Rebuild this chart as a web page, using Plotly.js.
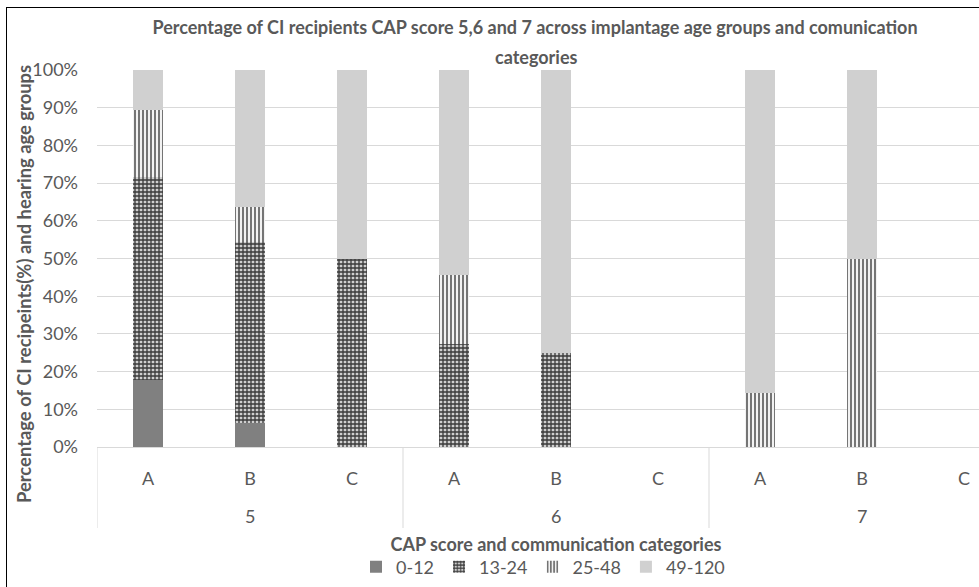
<!DOCTYPE html>
<html>
<head>
<meta charset="utf-8">
<script src="https://cdn.plot.ly/plotly-3.0.1.min.js"></script>
<style>
  html, body { margin: 0; padding: 0; width: 979px; height: 587px; overflow: hidden; background: #fff; }
  #chart { position: absolute; left: 0; top: 0; width: 1070px; height: 620px; }
  #frame { position: absolute; left: 6px; top: 7px; width: 1100px; height: 700px; border-left: 1px solid #000; border-top: 1px solid #000; pointer-events: none; }
</style>
</head>
<body>
<div id="chart"></div>
<div id="frame"></div>
<script>
// ---- data ----
const capScores = ["5", "6", "7"];
const commCategories = ["A", "B", "C"];
const seriesNames = ["0-12", "13-24", "25-48", "49-120"];
const age0_12   = [17.9, 6.4, 0, 0, 0, 0, 0, 0, 0];
const age13_24  = [53.6, 48.0, 50, 27.3, 25, 0, 0, 0, 0];
const age25_48  = [17.9, 9.3, 0, 18.2, 0, 0, 14.3, 50, 0];
const age49_120 = [10.7, 36.3, 50, 54.5, 75, 0, 85.7, 50, 0];
const yTickVals = [0, 10, 20, 30, 40, 50, 60, 70, 80, 90, 100];
const yTickText = ["0%", "10%", "20%", "30%", "40%", "50%", "60%", "70%", "80%", "90%", "100%"];
const titleLine1 = "Percentage of CI recipients CAP score 5,6 and 7 across implantage age groups and comunication";
const titleLine2 = "categories";
const yTitle = "Percentage of CI recipeints(%) and hearing age groups";
const xTitle = "CAP score and communication categories";

// ---- build ----
const xIdx = [];
const xText = [];
capScores.forEach(function (g) { commCategories.forEach(function (c) { xIdx.push(xIdx.length); xText.push(c); }); });

const FONT = 'Lato, "Liberation Sans", Arial, sans-serif';
const GREY = '#595959';

const styles = [
  { color: '#808080' },
  { color: '#3c3c3c', pattern: { shape: '+', bgcolor: '#cfcfcf', fgcolor: '#3a3a3a', size: 4, solidity: 0.55 } },
  { color: '#505050', pattern: { shape: '|', bgcolor: '#f2f2f2', fgcolor: '#555555', size: 4, solidity: 0.4 } },
  { color: '#d0d0d0' }
];
const seriesVals = [age0_12, age13_24, age25_48, age49_120];

const traces = seriesVals.map(function (vals, i) {
  const m = { color: styles[i].color, line: { width: 0 } };
  if (styles[i].pattern) m.pattern = styles[i].pattern;
  return { type: 'bar', name: seriesNames[i], x: xIdx, y: vals, width: 0.3, marker: m, hoverinfo: 'name+y' };
});

const W = 1070, H = 620;
const L = 97, T = 70, R = 1015, B = 447;
const pw = R - L, ph = B - T;
function py(p) { return (B - p) / ph; }
function px(p) { return (p - L) / pw; }

const shapes = [];
const nPer = commCategories.length;
for (let g = 0; g <= capScores.length; g++) {
  const xv = g * nPer - 0.5;
  shapes.push({ type: 'line', xref: 'x', yref: 'paper', x0: xv, x1: xv, y0: 0, y1: py(528), line: { color: '#d9d9d9', width: 1 } });
}

const annotations = capScores.map(function (g, gi) {
  return { text: g, xref: 'x', yref: 'paper', x: gi * nPer + (nPer - 1) / 2, y: py(516), yanchor: 'middle', showarrow: false, font: { family: FONT, size: 18, color: GREY } };
});
annotations.push({ text: titleLine2, xref: 'paper', yref: 'paper', x: px(536), y: py(57), yanchor: 'middle', showarrow: false, font: { family: FONT, size: 18, color: GREY, weight: 'bold' } });
annotations.push({ text: yTitle, xref: 'paper', yref: 'paper', x: px(24), y: py(284), xanchor: 'center', yanchor: 'middle', textangle: -90, showarrow: false, font: { family: FONT, size: 18.4, color: GREY, weight: 'bold' } });

const layout = {
  width: W, height: H,
  margin: { l: L, r: W - R, t: T, b: H - B, pad: 0 },
  paper_bgcolor: '#ffffff', plot_bgcolor: '#ffffff',
  barmode: 'stack',
  bargap: 0.7,
  font: { family: FONT, size: 18, color: GREY },
  title: { text: titleLine1, xref: 'container', yref: 'container', x: 535 / W, y: 1 - 28 / H, xanchor: 'center', yanchor: 'middle', font: { family: FONT, size: 18, color: GREY, weight: 'bold' } },
  xaxis: {
    range: [-0.5, 8.5], tickvals: xIdx, ticktext: xText, showgrid: false, zeroline: false,
    showline: true, linecolor: '#d9d9d9', linewidth: 1, ticks: '', ticklabelstandoff: 15,
    tickfont: { family: FONT, size: 18, color: GREY },
    title: { text: xTitle, standoff: 50, font: { family: FONT, size: 18, color: GREY, weight: 'bold' } },
    fixedrange: true
  },
  yaxis: {
    range: [0, 100], tickvals: yTickVals, ticktext: yTickText, showgrid: true, gridcolor: '#d9d9d9', gridwidth: 1,
    zeroline: false, showline: false, ticks: '', ticklabelstandoff: 18,
    tickfont: { family: FONT, size: 18, color: GREY },
    fixedrange: true
  },
  legend: { orientation: 'h', x: px(543), xanchor: 'center', y: py(567), yanchor: 'middle', font: { family: FONT, size: 18, color: GREY }, traceorder: 'normal', itemwidth: 30 },
  showlegend: true,
  shapes: shapes,
  annotations: annotations
};

Plotly.newPlot('chart', traces, layout, { displayModeBar: false, staticPlot: true });
</script>
</body>
</html>
